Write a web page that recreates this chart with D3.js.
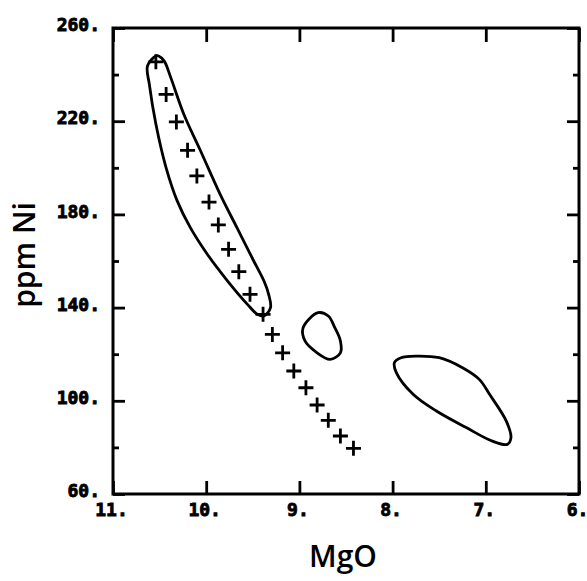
<!DOCTYPE html>
<html>
<head>
<meta charset="utf-8">
<script src="https://cdn.jsdelivr.net/npm/d3@7"></script>
<style>
  body { margin: 0; background: #fff; }
  .title { font-family: "Open Sans", sans-serif; font-size: 30px; font-weight: 600; fill: #000; }
</style>
</head>
<body>
<div id="chart"></div>
<script>
const svgWidth = 587;
const svgHeight = 581;

// axis ticks
var xTicks = [11, 10, 9, 8, 7, 6];
var yTicks = [60, 100, 140, 180, 220, 260];
var yMinor = [80, 120, 160, 200, 240];

// crosses (MgO wt%, Ni ppm)
var crossMgO = [10.54, 10.43, 10.32, 10.20, 10.10, 9.97, 9.87, 9.76, 9.65, 9.53,
                9.39, 9.29, 9.18, 9.06, 8.93, 8.81, 8.69, 8.56, 8.42];
var crossNi = [245.5, 231.5, 219.7, 207.5, 196.5, 185.3, 175.5, 165, 155.4, 145.7,
               137.1, 128.5, 120.6, 112.8, 105.6, 98.2, 91.6, 84.9, 79.6];

// outlined fields [MgO, Ni]
var fieldA = [[10.54, 248.0], [10.63, 243.7], [10.61, 235.8], [10.54, 218.8], [10.43, 200.0],
              [10.31, 185.7], [10.17, 174.3], [9.99, 163.0], [9.77, 151.4], [9.56, 141.5],
              [9.45, 137.1], [9.38, 136.4], [9.31, 140.0], [9.33, 145.7], [9.38, 151.4],
              [9.49, 160.0], [9.67, 174.3], [9.85, 188.6], [10.06, 207.2], [10.24, 223.0],
              [10.38, 238.7], [10.45, 245.8], [10.51, 248.0]];
var fieldB = [[8.80, 137.8], [8.96, 131.4], [8.94, 125.7], [8.81, 120.6], [8.67, 117.8],
              [8.56, 120.6], [8.56, 125.7], [8.62, 131.4], [8.69, 136.4]];
var fieldC = [[7.98, 116.4], [7.96, 112.1], [7.78, 102.8], [7.53, 95.6], [7.21, 88.5],
              [6.93, 82.7], [6.77, 81.3], [6.73, 84.2], [6.78, 91.3], [6.96, 102.8],
              [7.07, 109.2], [7.25, 114.2], [7.50, 118.5], [7.74, 119.2], [7.91, 118.5]];

const plotLeft = 113, plotRight = 579, plotTop = 28, plotBottom = 494;

var svg = d3.select("#chart")
  .append("svg")
  .attr("width", svgWidth)
  .attr("height", svgHeight);

var xScale = d3.scaleLinear().domain([11, 6]).range([plotLeft, plotRight]);
var yScale = d3.scaleLinear().domain([60, 260]).range([plotBottom, plotTop]);

function styleAxis(g) {
  g.select(".domain").remove();
  g.selectAll(".tick line").attr("stroke", "#000").attr("stroke-width", 2.8);
  g.selectAll(".tick text")
    .attr("font-family", "'DejaVu Sans Mono', monospace")
    .attr("font-weight", "bold")
    .attr("font-size", 18)
    .attr("fill", "#000")
    .attr("stroke", "#000")
    .attr("stroke-width", 0.9);
}

// bottom
svg.append("g")
  .attr("transform", "translate(0," + plotBottom + ")")
  .call(d3.axisBottom(xScale).tickValues(xTicks).tickSize(-13).tickPadding(9).tickFormat(d => d + "."))
  .call(styleAxis)
  .call(g => g.selectAll(".tick text").attr("dx", "-2"));
// top
svg.append("g")
  .attr("transform", "translate(0," + plotTop + ")")
  .call(d3.axisTop(xScale).tickValues(xTicks).tickSize(-14).tickFormat(""))
  .call(styleAxis);
// left
svg.append("g")
  .attr("transform", "translate(" + plotLeft + ",0)")
  .call(d3.axisLeft(yScale).tickValues(yTicks).tickSize(-12).tickPadding(13).tickFormat(d => d + "."))
  .call(styleAxis)
  .call(g => g.selectAll(".tick text").attr("dy", "0.15em"));
svg.append("g")
  .attr("transform", "translate(" + plotLeft + ",0)")
  .call(d3.axisLeft(yScale).tickValues(yMinor).tickSize(-6).tickFormat(""))
  .call(styleAxis);
// right
svg.append("g")
  .attr("transform", "translate(" + plotRight + ",0)")
  .call(d3.axisRight(yScale).tickValues(yTicks).tickSize(-12).tickFormat(""))
  .call(styleAxis);
svg.append("g")
  .attr("transform", "translate(" + plotRight + ",0)")
  .call(d3.axisRight(yScale).tickValues(yMinor).tickSize(-6).tickFormat(""))
  .call(styleAxis);

// frame
svg.append("rect")
  .attr("x", plotLeft).attr("y", plotTop)
  .attr("width", plotRight - plotLeft).attr("height", plotBottom - plotTop)
  .attr("fill", "none").attr("stroke", "#000").attr("stroke-width", 3);

// fields
var line = d3.line()
  .x(d => xScale(d[0]))
  .y(d => yScale(d[1]))
  .curve(d3.curveCatmullRomClosed.alpha(0.5));

svg.append("g")
  .selectAll("path")
  .data([fieldA, fieldB, fieldC])
  .enter()
  .append("path")
  .attr("d", line)
  .attr("fill", "none")
  .attr("stroke", "#000")
  .attr("stroke-width", 2.8);

// crosses
var crosses = crossMgO.map((m, i) => ({ mgo: m, ni: crossNi[i] }));
var arm = 7.5;
svg.append("g")
  .selectAll("path")
  .data(crosses)
  .enter()
  .append("path")
  .attr("d", d => {
    var cx = xScale(d.mgo), cy = yScale(d.ni);
    return "M" + (cx - arm) + "," + cy + "H" + (cx + arm) + "M" + cx + "," + (cy - arm) + "V" + (cy + arm);
  })
  .attr("stroke", "#000")
  .attr("stroke-width", 2.8);

// titles
svg.append("text")
  .attr("class", "title")
  .attr("x", 343)
  .attr("y", 567)
  .attr("text-anchor", "middle")
  .text("MgO");
svg.append("text")
  .attr("class", "title")
  .attr("transform", "translate(35,255) rotate(-90)")
  .attr("text-anchor", "middle")
  .text("ppm Ni");
</script>
</body>
</html>
